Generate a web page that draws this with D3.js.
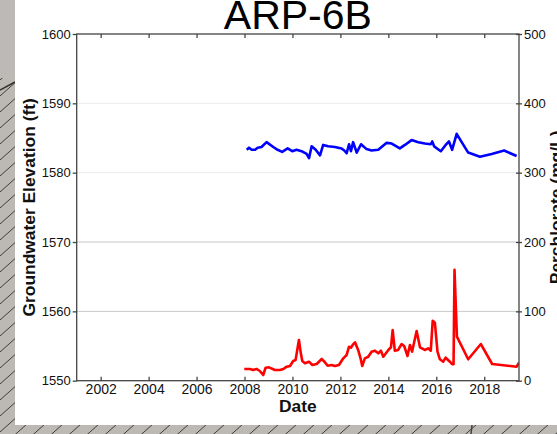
<!DOCTYPE html>
<html>
<head>
<meta charset="utf-8">
<script src="https://cdn.jsdelivr.net/npm/d3@7"></script>
<style>
  body { margin: 0; overflow: hidden; background: #fff; }
  svg { display: block; font-family: "Liberation Sans", Arial, Helvetica, sans-serif; }
</style>
</head>
<body>
<div id="chart"></div>
<script>
// groundwater elevation (ft), decimal years
const gwYears = [2008.09, 2008.19, 2008.30, 2008.44, 2008.55, 2008.71, 2008.92, 2009.20, 2009.38, 2009.57,
  2009.80, 2009.99, 2010.17, 2010.38, 2010.59, 2010.69, 2010.80, 2010.97, 2011.15, 2011.28,
  2011.49, 2011.77, 2012.05, 2012.16, 2012.26, 2012.36, 2012.44, 2012.53, 2012.68, 2012.86,
  2013.09, 2013.30, 2013.58, 2013.93, 2014.14, 2014.48, 2014.69, 2014.97, 2015.25, 2015.52,
  2015.77, 2015.83, 2015.91, 2016.19, 2016.39, 2016.53, 2016.66, 2016.85, 2017.06, 2017.33,
  2017.82, 2018.31, 2018.83, 2019.35];
const gwElev = [1583.3, 1583.6, 1583.3, 1583.3, 1583.6, 1583.7, 1584.4, 1583.7, 1583.3, 1583.0,
  1583.5, 1583.1, 1583.3, 1583.1, 1582.7, 1582.1, 1583.8, 1583.3, 1582.5, 1584.0,
  1583.8, 1583.7, 1583.5, 1583.2, 1582.8, 1584.1, 1583.1, 1584.4, 1582.9, 1584.1,
  1583.4, 1583.2, 1583.3, 1584.3, 1584.2, 1583.5, 1584.0, 1584.7, 1584.4, 1584.2,
  1584.1, 1584.5, 1583.8, 1583.1, 1584.0, 1584.5, 1583.3, 1585.6, 1584.4, 1582.9,
  1582.3, 1582.7, 1583.2, 1582.4];

// perchlorate (mg/L), decimal years
const pcYears = [2007.99, 2008.23, 2008.36, 2008.50, 2008.64, 2008.78, 2008.88, 2009.02, 2009.27, 2009.48,
  2009.62, 2009.76, 2009.90, 2010.03, 2010.13, 2010.27, 2010.35, 2010.41, 2010.52, 2010.69,
  2010.83, 2011.01, 2011.22, 2011.33, 2011.47, 2011.63, 2011.77, 2011.94, 2012.12, 2012.26,
  2012.36, 2012.44, 2012.53, 2012.61, 2012.74, 2012.84, 2012.91, 2013.02, 2013.16, 2013.30,
  2013.44, 2013.58, 2013.69, 2013.79, 2014.00, 2014.11, 2014.18, 2014.27, 2014.41, 2014.55,
  2014.66, 2014.80, 2014.90, 2014.99, 2015.18, 2015.32, 2015.52, 2015.66, 2015.77, 2015.85,
  2015.94, 2016.05, 2016.15, 2016.29, 2016.39, 2016.57, 2016.66, 2016.72, 2016.76, 2016.86,
  2017.33, 2017.86, 2018.33, 2019.35, 2019.45];
const pcConc = [16.9, 16.9, 15.4, 16.9, 14.0, 8.2, 18.7, 19.3, 15.4, 15.4,
  16.9, 20.2, 21.2, 28.4, 29.9, 58.7, 39.5, 28.4, 25.1, 27.4,
  22.6, 24.1, 31.3, 27.4, 21.6, 22.6, 21.2, 22.6, 32.3, 37.1,
  49.0, 47.6, 52.5, 55.4, 44.3, 32.3, 21.2, 32.3, 34.6, 41.8,
  43.3, 39.5, 43.3, 34.6, 44.3, 48.2, 73.1, 43.3, 44.3, 52.9,
  50.0, 35.6, 51.5, 41.8, 71.7, 48.2, 44.3, 46.7, 43.3, 86.5,
  83.6, 41.8, 30.9, 27.4, 33.2, 27.4, 23.7, 23.7, 160.0, 63.5,
  30.9, 52.9, 24.1, 20.2, 26.0];

const xTicks = [2002, 2004, 2006, 2008, 2010, 2012, 2014, 2016, 2018];
const leftTicks = [1550, 1560, 1570, 1580, 1590, 1600];
const rightTicks = [0, 100, 200, 300, 400, 500];

const W = 557, H = 434;
const plot = { left: 76.7, top: 34, right: 519, bottom: 380.7 };

const svg = d3.select('#chart').append('svg')
  .attr('width', W)
  .attr('height', H);

// photographed background: grey paper with hatching
const defs = svg.append('defs');
const hatch = defs.append('pattern')
  .attr('id', 'hatch')
  .attr('patternUnits', 'userSpaceOnUse')
  .attr('width', 18)
  .attr('height', 16);
hatch.append('rect').attr('width', 18).attr('height', 16).attr('fill', '#bcb8b4');
hatch.append('line')
  .attr('x1', 0).attr('y1', 16).attr('x2', 18).attr('y2', 0)
  .attr('stroke', '#3c3c3c').attr('stroke-width', 1);

svg.append('rect').attr('width', W).attr('height', H).attr('fill', 'url(#hatch)');
svg.append('rect').attr('x', 0).attr('y', 0).attr('width', 15).attr('height', 78).attr('fill', '#bdb9b6');
svg.append('line')
  .attr('x1', 0).attr('y1', 90).attr('x2', 15).attr('y2', 82)
  .attr('stroke', '#333').attr('stroke-width', 1.5);
svg.append('line')
  .attr('x1', 472).attr('y1', 425).attr('x2', 471).attr('y2', H)
  .attr('stroke', '#444').attr('stroke-width', 1.5);
svg.append('rect').attr('x', 15).attr('y', 0).attr('width', W - 15).attr('height', 425).attr('fill', '#fff');

const x = d3.scaleLinear().domain([2001, 2019.45]).range([plot.left, plot.right]);
const yL = d3.scaleLinear().domain([1550, 1600]).range([plot.bottom, plot.top]);
const yR = d3.scaleLinear().domain([0, 500]).range([plot.bottom, plot.top]);

// grid
svg.append('g')
  .selectAll('line')
  .data(leftTicks.slice(1, -1))
  .join('line')
  .attr('x1', plot.left).attr('x2', plot.right)
  .attr('y1', d => yL(d)).attr('y2', d => yL(d))
  .attr('stroke', d => d >= 1580 ? '#ececec' : '#c8c8c8')
  .attr('stroke-width', 1);

svg.append('clipPath').attr('id', 'clip')
  .append('rect')
  .attr('x', plot.left).attr('y', plot.top)
  .attr('width', plot.right - plot.left).attr('height', plot.bottom - plot.top);

const gwLine = d3.line().x((d, i) => x(gwYears[i])).y(d => yL(d));
const pcLine = d3.line().x((d, i) => x(pcYears[i])).y(d => yR(d));

svg.append('path')
  .datum(gwElev)
  .attr('clip-path', 'url(#clip)')
  .attr('fill', 'none')
  .attr('stroke', '#0000ff')
  .attr('stroke-width', 2.6)
  .attr('stroke-linejoin', 'round')
  .attr('d', gwLine);

svg.append('path')
  .datum(pcConc)
  .attr('clip-path', 'url(#clip)')
  .attr('fill', 'none')
  .attr('stroke', '#ff0000')
  .attr('stroke-width', 2.6)
  .attr('stroke-linejoin', 'round')
  .attr('d', pcLine);

// axes
const axisColor = '#444';
const styleAxis = (g, size) => g
  .call(g => g.select('.domain').remove())
  .call(g => g.selectAll('line').attr('stroke', axisColor).attr('stroke-width', 1.3))
  .call(g => g.selectAll('text').attr('fill', '#111').style('font-size', size + 'px'));

svg.append('g')
  .attr('transform', `translate(0,${plot.bottom})`)
  .call(d3.axisBottom(x).tickValues(xTicks).tickFormat(d3.format('d')).tickSize(-4).tickPadding(3.5))
  .call(g => styleAxis(g, 14));

svg.append('g')
  .attr('transform', `translate(0,${plot.top})`)
  .call(d3.axisTop(x).tickValues(xTicks).tickFormat('').tickSize(-4))
  .call(g => styleAxis(g, 14));

svg.append('g')
  .attr('transform', `translate(${plot.left},0)`)
  .call(d3.axisLeft(yL).tickValues(leftTicks).tickFormat(d3.format('d')).tickSize(4).tickPadding(2))
  .call(g => styleAxis(g, 13));

svg.append('g')
  .attr('transform', `translate(${plot.right},0)`)
  .call(d3.axisRight(yR).tickValues(rightTicks).tickFormat(d3.format('d')).tickSize(3).tickPadding(2))
  .call(g => styleAxis(g, 13))
  .call(g => g.selectAll('.tick line').attr('x1', -3));

svg.append('rect')
  .attr('x', plot.left).attr('y', plot.top)
  .attr('width', plot.right - plot.left).attr('height', plot.bottom - plot.top)
  .attr('fill', 'none')
  .attr('stroke', axisColor)
  .attr('stroke-width', 1.3);

// labels
svg.append('text')
  .attr('x', (plot.left + plot.right) / 2)
  .attr('y', 29)
  .attr('text-anchor', 'middle')
  .attr('fill', '#000')
  .style('font-size', '41px')
  .text('ARP-6B');

svg.append('text')
  .attr('x', (plot.left + plot.right) / 2)
  .attr('y', 412)
  .attr('text-anchor', 'middle')
  .attr('fill', '#111')
  .style('font-size', '17.4px')
  .style('font-weight', 'bold')
  .text('Date');

svg.append('text')
  .attr('transform', `translate(35,${(plot.top + plot.bottom) / 2}) rotate(-90)`)
  .attr('text-anchor', 'middle')
  .attr('fill', '#111')
  .style('font-size', '17.4px')
  .style('font-weight', 'bold')
  .text('Groundwater Elevation (ft)');

svg.append('text')
  .attr('transform', `translate(562,${(plot.top + plot.bottom) / 2}) rotate(-90)`)
  .attr('text-anchor', 'middle')
  .attr('fill', '#111')
  .style('font-size', '17.4px')
  .style('font-weight', 'bold')
  .text('Perchlorate (mg/L)');
</script>
</body>
</html>
